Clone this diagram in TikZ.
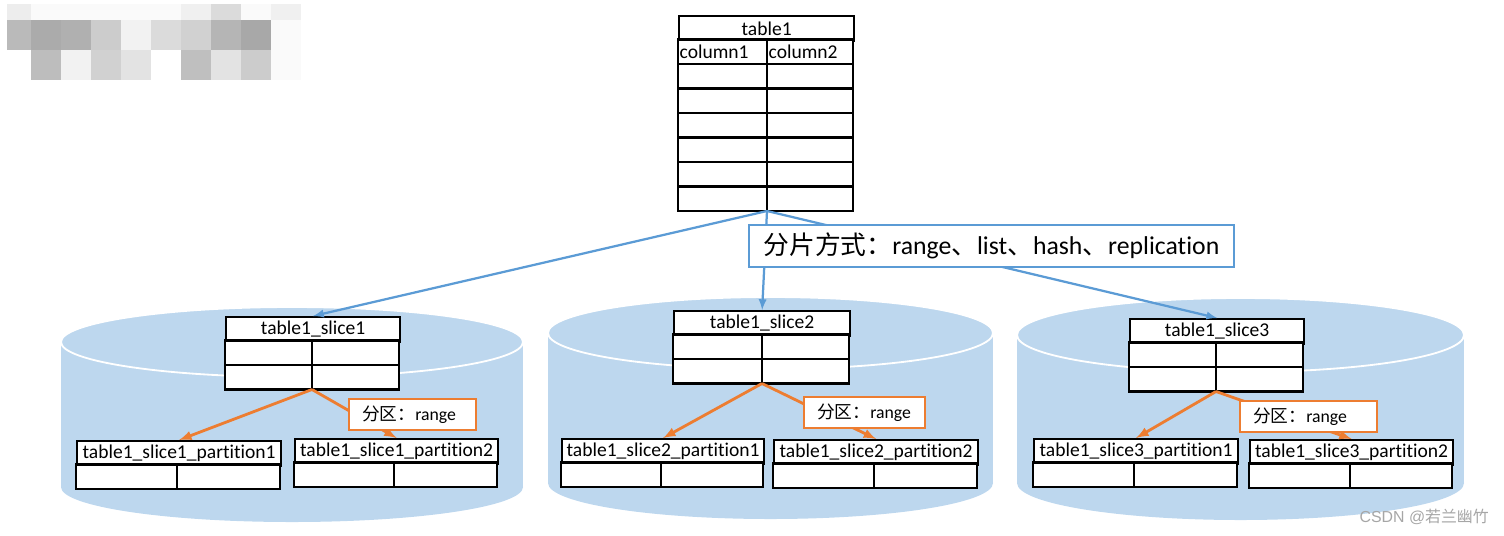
\documentclass[tikz,border=0pt]{standalone}
\usepackage{fontspec}
\setmainfont{Carlito}[Ligatures=NoCommon]
\newfontfamily\cjk{Noto Sans CJK SC}
\newfontfamily\wmfont{Liberation Sans}
\newcommand\tabfont{\fontsize{13.9}{16}\selectfont}
\definecolor{cylblue}{HTML}{BDD7EE}
\definecolor{arrblue}{HTML}{5B9BD5}
\definecolor{arrorange}{HTML}{ED7D31}
\tikzset{
	tbl/.style={draw, fill=white, line width=1.6pt, inner sep=0pt, anchor=north west, font=\tabfont, minimum height=24.5*0.025cm},
	tblline/.style={line width=1.6pt},
	bluearr/.style={->,>=latex, arrblue, line width=1.6pt},
	orangearr/.style={->,>=latex, arrorange, line width=2pt},
	partlbl/.style={draw=arrorange, fill=white, line width=1.6pt, anchor=north west, inner xsep=13*0.025cm, inner ysep=0pt, minimum height=31*0.025cm, align=left, font=\fontsize{12.6}{15}\selectfont},
}
\begin{document}
\begin{tikzpicture}[x=0.025cm, y=-0.025cm]
	\useasboundingbox (0,0) rectangle (1504,535);
	\foreach \c [count=\i from 0] in {7,2,2,2,2,2,6,14,2,6}{ \fill[black!\c] ({max(7,\i*30+1)},4) rectangle (\i*30+31,20);}
	\foreach \c [count=\i from 0] in {27,33,31,20,5,14,18,29,34,2}{ \fill[black!\c] ({max(7,\i*30+1)},20) rectangle (\i*30+31,50);}
	\foreach \c [count=\i from 0] in {0,26,5,18,11,0,25,11,20,2}{ \fill[black!\c] ({max(7,\i*30+1)},50) rectangle (\i*30+31,80);}
	\foreach \cx/\cw/\ct/\cbot/\ry in {61/462/342/487/35, 548/445/333/483/36, 1017/447/335/483/37}{
		\fill[cylblue] (\cx,\ct) rectangle (\cx+\cw,\cbot);
		\fill[cylblue] (\cx+\cw/2,\cbot) ellipse [x radius=\cw/2, y radius=\ry];
		\draw[white, line width=1.3pt, fill=cylblue] (\cx+\cw/2,\ct) ellipse [x radius=\cw/2, y radius=\ry];
	}
	\foreach \n/\lbl/\x/\y/\w/\d/\r in {
		t1/table1/678/15/175/89/7,
		s1/table1\_slice1/225/316/174/87/2,
		s2/table1\_slice2/673/310/176/89/2,
		s3/table1\_slice3/1129/318/174/87/2,
		p11/table1\_slice1\_partition1/76/440/204/101/1,
		p12/table1\_slice1\_partition2/294/438/203/100/1,
		p21/table1\_slice2\_partition1/561/438/202/100/1,
		p22/table1\_slice2\_partition2/773/439/204/101/1,
		p31/table1\_slice3\_partition1/1033/438/204/101/1,
		p32/table1\_slice3\_partition2/1249/439/203/101/1}{
		\node[tbl, minimum width=\w*0.025cm] (\n) at (\x,\y) {\lbl};
		\draw[tblline, fill=white] (\x,\y+24.5) rectangle (\x+\w,\y+24.5+\r*24.5);
		\foreach \k in {1,...,\r}{ \draw[tblline] (\x,\y+24.5+\k*24.5) -- (\x+\w,\y+24.5+\k*24.5);}
		\draw[tblline] (\x+\d,\y+24.5) -- (\x+\d,\y+24.5+\r*24.5) coordinate (\n-b);
	}
	\node[anchor=west, font=\tabfont, inner sep=1pt] (c1) at (678,52) {column1};
	\node[anchor=west, font=\tabfont, inner sep=1pt] (c2) at (767,52) {column2};
	\foreach \s in {s1,s2,s3}{ \draw[bluearr] (t1-b) -- (\s.north);}
	\foreach \s/\pa/\pb in {s1/p11/p12, s2/p21/p22, s3/p31/p32}{
		\draw[orangearr] (\s-b) -- (\pa.north);
		\draw[orangearr] (\s-b) -- (\pb.north);
	}
	\node[draw=arrblue, fill=white, line width=1.4pt, anchor=north west, minimum width=485*0.025cm, minimum height=42*0.025cm, inner sep=0pt, font=\fontsize{18.3}{20}\selectfont] (m) at (748,224) {{\cjk 分片方式：}range{\cjk 、}list{\cjk 、}hash{\cjk 、}replication};
	\node[partlbl, text width=101*0.025cm] (l1) at (348,398) {{\cjk 分区：}range};
	\node[partlbl, text width=95*0.025cm] (l2) at (803,396) {{\cjk 分区：}range};
	\node[partlbl, text width=111*0.025cm] (l3) at (1239,400) {{\cjk 分区：}range};
	\node[anchor=east, inner sep=0pt, text=black!35, font=\wmfont\fontsize{11.3}{13}\selectfont] (wm) at (1489,517) {CSDN @{\cjk 若兰幽竹}};
\end{tikzpicture}
\end{document}
